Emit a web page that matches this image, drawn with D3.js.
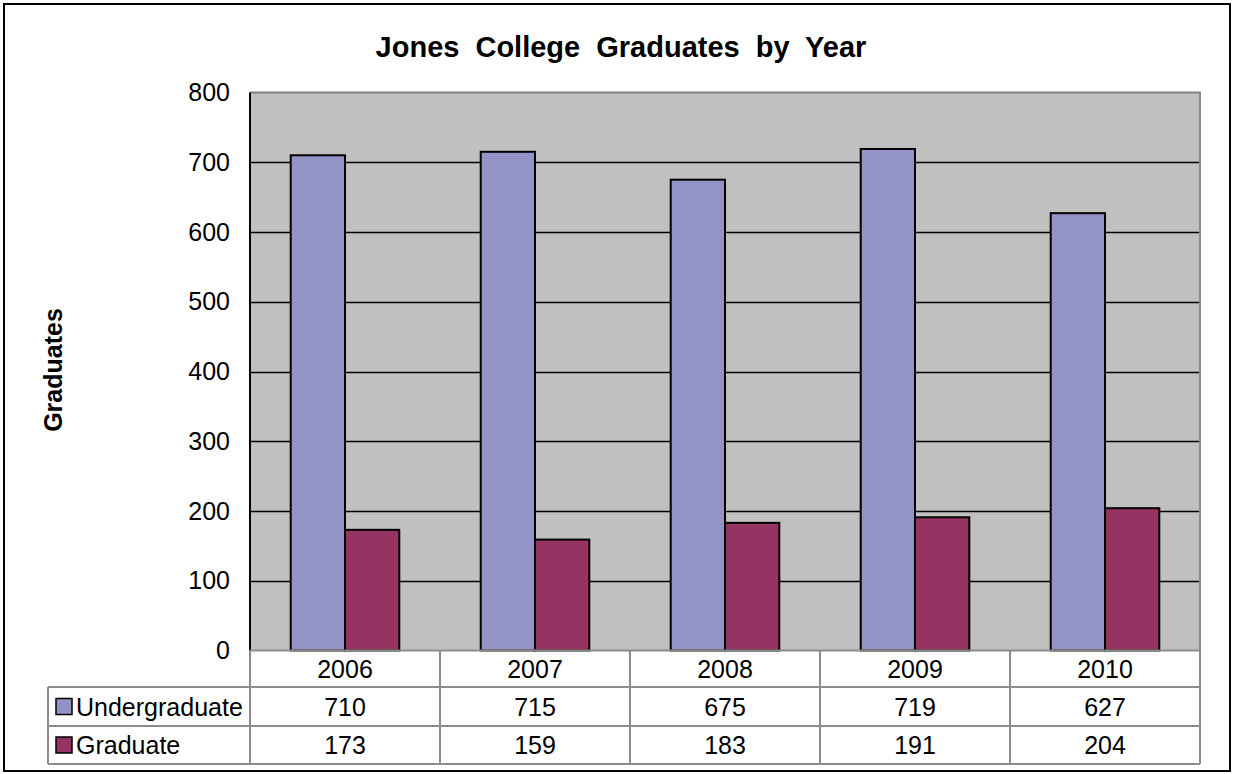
<!DOCTYPE html>
<html><head><meta charset="utf-8">
<script src="https://cdn.jsdelivr.net/npm/d3@7"></script>
<style>html,body{margin:0;padding:0;background:#fff;}svg{display:block;font-family:"Liberation Sans",Arial,sans-serif;}</style>
</head><body>
<svg id="c" width="1234" height="774"></svg>
<script>
const years = ["2006","2007","2008","2009","2010"];
const seriesNames = ["Undergraduate","Graduate"];
const undergraduate = [710,715,675,719,627];
const graduate = [173,159,183,191,204];
const yTicks = [0,100,200,300,400,500,600,700,800];
const colors = ["#9393C8","#953462"];

const svg = d3.select("#c");
const plot = {l:250, r:1200, t:92.5, b:650.5};
const rows = [650.5, 687, 726, 764];
const legendLeft = 48;
const FS = 25;

// outer border
svg.append("rect").attr("x",4).attr("y",4).attr("width",1226).attr("height",767)
  .attr("fill","#fff").attr("stroke","#000").attr("stroke-width",2);

const x0 = d3.scaleBand().domain(years).range([plot.l, plot.r]).paddingInner(0).paddingOuter(0);
const x1 = d3.scaleBand().domain(seriesNames).range([0, x0.bandwidth()]).paddingInner(0).paddingOuter(0.75);
const y = d3.scaleLinear().domain([0,800]).range([plot.b, plot.t]);

// plot bg
svg.append("rect").attr("x",plot.l).attr("y",plot.t).attr("width",plot.r-plot.l).attr("height",plot.b-plot.t).attr("fill","#C0C0C0");

// gridlines
svg.append("g").selectAll("line").data(yTicks.filter(d=>d>0 && d<800)).join("line")
  .attr("x1",plot.l).attr("x2",plot.r).attr("y1",d=>Math.round(y(d))+0.5).attr("y2",d=>Math.round(y(d))+0.5)
  .attr("stroke","#000").attr("stroke-width",1.5);

// bars
const data = years.map((yr,i)=>({year:yr, vals:[undergraduate[i], graduate[i]]}));
const g = svg.append("g");
data.forEach(d=>{
  d.vals.forEach((v,j)=>{
    g.append("rect").attr("x",x0(d.year)+x1(seriesNames[j])).attr("y",y(v))
      .attr("width",x1.bandwidth()).attr("height",y(0)-y(v))
      .attr("fill",colors[j]).attr("stroke","#000").attr("stroke-width",2);
  });
});

// plot border
svg.append("path").attr("d",`M${plot.l},${plot.t}H${plot.r}V${plot.b}`).attr("fill","none").attr("stroke","#808080").attr("stroke-width",2);
svg.append("line").attr("x1",plot.l).attr("x2",plot.l).attr("y1",plot.t).attr("y2",plot.b).attr("stroke","#000").attr("stroke-width",2);

// y axis labels
const yAxis = d3.axisLeft(y).tickValues(yTicks).tickSize(0).tickPadding(20);
const ya = svg.append("g").attr("transform",`translate(${plot.l},0)`).call(yAxis);
ya.select(".domain").remove();
ya.selectAll("text").attr("font-size",FS).attr("font-family","Liberation Sans, Arial, sans-serif").attr("fill","#000");

// y title
svg.append("text").attr("transform",`translate(62,370) rotate(-90)`).attr("text-anchor","middle")
  .attr("font-size",FS).attr("font-weight","bold").text("Graduates");

// title
svg.append("text").attr("x",621).attr("y",57).attr("text-anchor","middle")
  .attr("font-size",29).attr("font-weight","bold").attr("word-spacing",8).text("Jones College Graduates by Year");

// data table
const tg = svg.append("g");
const lc = "#8C8C8C";
tg.append("line").attr("x1",plot.l).attr("x2",plot.r).attr("y1",rows[0]).attr("y2",rows[0]).attr("stroke",lc).attr("stroke-width",2);
[rows[1],rows[2],rows[3]].forEach(yy=>{
  tg.append("line").attr("x1",legendLeft).attr("x2",plot.r).attr("y1",yy).attr("y2",yy).attr("stroke",lc).attr("stroke-width",2);
});
years.forEach(yr=>{
  tg.append("line").attr("x1",x0(yr)).attr("x2",x0(yr)).attr("y1",rows[0]).attr("y2",rows[3]).attr("stroke",lc).attr("stroke-width",2);
});
tg.append("line").attr("x1",plot.r).attr("x2",plot.r).attr("y1",plot.t).attr("y2",rows[3]).attr("stroke",lc).attr("stroke-width",2);
tg.append("line").attr("x1",legendLeft).attr("x2",legendLeft).attr("y1",rows[1]).attr("y2",rows[3]).attr("stroke",lc).attr("stroke-width",2);

tg.selectAll("text.yr").data(years).join("text").attr("class","yr")
  .attr("x",d=>x0(d)+x0.bandwidth()/2).attr("y",(rows[0]+rows[1])/2+9).attr("text-anchor","middle")
  .attr("font-size",FS).text(d=>d);
const seriesVals = [undergraduate, graduate];
seriesVals.forEach((arr,j)=>{
  const cy = (rows[j+1]+rows[j+2])/2;
  tg.selectAll(null).data(arr).join("text")
    .attr("x",(d,i)=>x0(years[i])+x0.bandwidth()/2).attr("y",cy+9).attr("text-anchor","middle")
    .attr("font-size",FS).text(d=>d);
  tg.append("rect").attr("x",56).attr("y",cy-8).attr("width",16).attr("height",16)
    .attr("fill",colors[j]).attr("stroke","#000").attr("stroke-width",1.5);
  tg.append("text").attr("x",76).attr("y",cy+9).attr("font-size",FS).text(seriesNames[j]);
});
</script>
</body></html>
